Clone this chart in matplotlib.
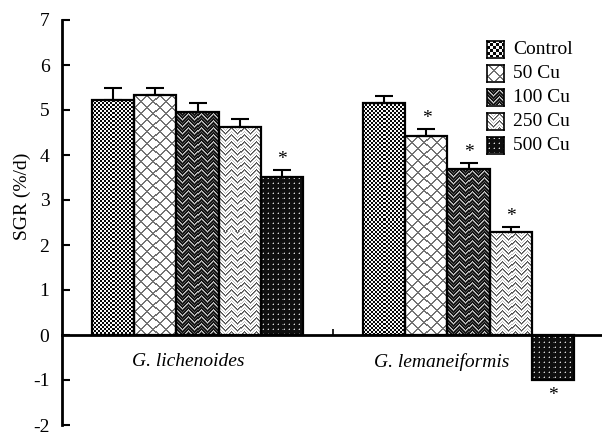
import numpy as np
import matplotlib
matplotlib.use("Agg")
import matplotlib.pyplot as plt

plt.rcParams['font.family'] = ['Liberation Serif', 'DejaVu Serif']
plt.rcParams['font.size'] = 14

# ---- data ----
species = ["G. lichenoides", "G. lemaneiformis"]
treatments = ["Control", "50 Cu", "100 Cu", "250 Cu", "500 Cu"]
sgr_lichenoides = [5.22, 5.33, 4.95, 4.63, 3.52]
err_lichenoides = [0.26, 0.15, 0.21, 0.16, 0.15]
sgr_lemaneiformis = [5.16, 4.42, 3.68, 2.28, -1.00]
err_lemaneiformis = [0.16, 0.16, 0.15, 0.11, 0.00]
sig_lichenoides = [False, False, False, False, True]
sig_lemaneiformis = [False, True, True, True, True]
yticks = [-2, -1, 0, 1, 2, 3, 4, 5, 6, 7]


# ---- fill textures (grey levels, 0 = black, 1 = white) ----
def tex_checker(h, w, cell=2):
    y, x = np.mgrid[0:h, 0:w]
    return (((x // cell) + (y // cell)) % 2).astype(float) * 0.95 + 0.02


def tex_diamond(h, w):
    y, x = np.mgrid[0:h, 0:w]
    a = (x + y) % 12
    b = (x - y) % 12
    img = np.ones((h, w))
    img[(a <= 1) | (b <= 1)] = 0.45
    return img


def zigzag_mask(h, w, period=12, step=7):
    y, x = np.mgrid[0:h, 0:w]
    off = np.abs((x % period) - period // 2)
    return ((y + off) % step)


def tex_dark_zigzag(h, w):
    m = zigzag_mask(h, w)
    img = np.full((h, w), 0.08)
    img[m == 0] = 0.8
    img[m == 1] = 0.55
    img[m == 4] = 0.35
    return img


def tex_light_zigzag(h, w):
    m = zigzag_mask(h, w)
    img = np.ones((h, w))
    img[m == 0] = 0.3
    img[m == 1] = 0.55
    img[m == 4] = 0.75
    return img


def tex_dots(h, w):
    y, x = np.mgrid[0:h, 0:w]
    img = np.full((h, w), 0.06)
    img[((x % 5) == 2) & ((y % 5) == 2)] = 0.85
    img[((x % 5) == 2) & ((y % 5) == 1)] = 0.35
    img[((x % 5) == 1) & ((y % 5) == 2)] = 0.35
    return img


textures = [tex_checker, tex_diamond, tex_dark_zigzag, tex_light_zigzag, tex_dots]

# ---- figure ----
W, H = 602, 434
fig = plt.figure(figsize=(W / 100, H / 100), dpi=100)
ax = fig.add_axes([62 / W, 9 / H, 542 / W, 405 / H])
ax.set_xlim(-0.5, 1.5)
ax.set_ylim(-2, 7)

bar_w = 0.155
values = [sgr_lichenoides, sgr_lemaneiformis]
errors = [err_lichenoides, err_lemaneiformis]
sigs = [sig_lichenoides, sig_lemaneiformis]

for g in range(len(species)):
    for i in range(len(treatments)):
        xc = g + (i - 2) * bar_w
        v = values[g][i]
        e = errors[g][i]
        bar = ax.bar(xc, v, width=bar_w, facecolor='none', edgecolor='black',
                     linewidth=1.6, zorder=3)[0]
        # texture fill, clipped to the bar outline
        x0, x1 = xc - bar_w / 2, xc + bar_w / 2
        y0, y1 = min(0, v), max(0, v)
        p0 = ax.transData.transform((x0, y0))
        p1 = ax.transData.transform((x1, y1))
        wpx = max(int(round(abs(p1[0] - p0[0]))), 1)
        hpx = max(int(round(abs(p1[1] - p0[1]))), 1)
        img = textures[i](hpx, wpx)
        im = ax.imshow(img, cmap='gray', vmin=0, vmax=1, extent=[x0, x1, y0, y1],
                       origin='upper', interpolation='nearest', aspect='auto', zorder=2)
        im.set_clip_path(bar)
        if e > 0:
            ax.errorbar(xc, v, yerr=[[0], [e]], fmt='none', ecolor='black',
                        elinewidth=1.5, capsize=6.5, capthick=1.5, zorder=4)
        if sigs[g][i]:
            if v >= 0:
                ax.annotate('*', (xc, v + e), xytext=(0, 1.5), textcoords='offset points',
                            ha='center', va='bottom', fontsize=14)
            else:
                ax.annotate('*', (xc, v), xytext=(0, -5), textcoords='offset points',
                            ha='center', va='top', fontsize=14)

ax.set_xlim(-0.5, 1.5)
ax.set_ylim(-2, 7)

# axes styling
for s in ['top', 'right']:
    ax.spines[s].set_visible(False)
ax.spines['bottom'].set_position(('data', 0))
ax.spines['bottom'].set_linewidth(2)
ax.spines['left'].set_linewidth(2)
ax.set_yticks(yticks)
ax.set_yticklabels([str(t) for t in yticks])
ax.tick_params(axis='y', direction='in', length=6, width=1.5, pad=9, labelsize=14)
ax.set_xticks([])
ax.set_xticks([0.5], minor=True)
ax.tick_params(axis='x', which='minor', direction='in', length=4, width=1.2,
               labelbottom=False)

# category names under the zero line
label_shift = [-9, -27]
for g, name in enumerate(species):
    ax.annotate(name, (g, 0), xytext=(label_shift[g], -27), textcoords='offset pixels',
                ha='center', va='center', fontstyle='italic', fontsize=14)

fig.text(22 / W, 1 - 196 / H, 'SGR (%/d)', rotation=90, ha='center', va='center', fontsize=14)

# legend swatches
rows_y = [49, 73, 97, 121, 145]
for i, name in enumerate(treatments):
    cy = rows_y[i]
    sw = fig.add_axes([487 / W, 1 - (cy + 8.5) / H, 17 / W, 17 / H])
    if i == 0:
        sw_img = tex_checker(17, 17, cell=3)
    else:
        sw_img = textures[i](17, 17)
    sw.imshow(sw_img, cmap='gray', vmin=0, vmax=1,
              interpolation='nearest', aspect='auto')
    sw.set_xticks([])
    sw.set_yticks([])
    for s in sw.spines.values():
        s.set_linewidth(1.2)
    fig.text(513 / W, 1 - cy / H, name, ha='left', va='center', fontsize=14)

fig.savefig('out.png', dpi=100)
